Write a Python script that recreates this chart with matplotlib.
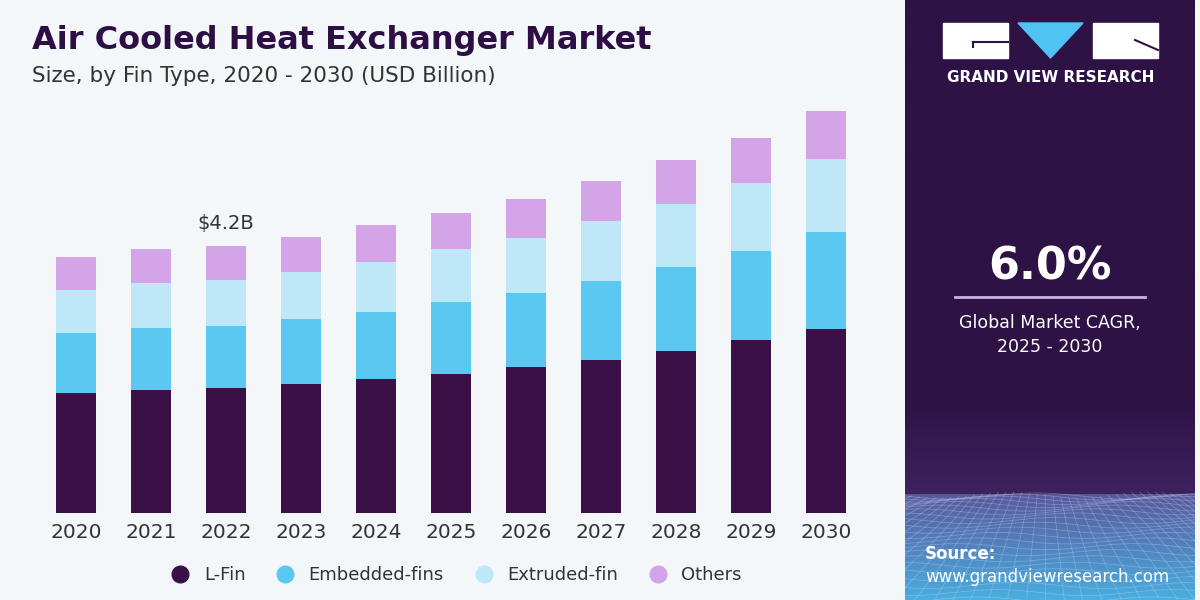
import numpy as np
import matplotlib.pyplot as plt
from matplotlib.lines import Line2D
from matplotlib.patches import Rectangle, Polygon

# data (USD Billion)
years = ["2020", "2021", "2022", "2023", "2024", "2025", "2026", "2027", "2028", "2029", "2030"]
l_fin = [1.89, 1.93, 1.96, 2.02, 2.10, 2.19, 2.29, 2.41, 2.55, 2.72, 2.89]
embedded_fins = [0.94, 0.98, 0.98, 1.03, 1.06, 1.12, 1.17, 1.24, 1.32, 1.40, 1.52]
extruded_fin = [0.68, 0.71, 0.72, 0.74, 0.79, 0.83, 0.86, 0.94, 0.99, 1.06, 1.15]
others = [0.51, 0.53, 0.54, 0.55, 0.57, 0.58, 0.61, 0.63, 0.68, 0.71, 0.75]
series_names = ["L-Fin", "Embedded-fins", "Extruded-fin", "Others"]
colors = ["#3A1046", "#5BC8F2", "#BEE8F8", "#D3A5E8"]
label_year = 2
label_text = r"\$4.2B"

BG = "#F3F7FA"
PANEL = "#2E1245"

fig = plt.figure(figsize=(12, 6), dpi=100, facecolor=BG)

# main bar chart
ax = fig.add_axes([38.5 / 1200, 87 / 600, 825 / 1200, 413.8 / 600])
ax.set_facecolor(BG)
x = np.arange(len(years))
bottom = np.zeros(len(years))
for vals, col in zip([l_fin, embedded_fins, extruded_fin, others], colors):
    ax.bar(x, vals, width=0.54, bottom=bottom, color=col, linewidth=0)
    bottom = bottom + np.array(vals)
ax.set_xlim(-0.5, len(years) - 0.5)
ax.set_ylim(0, 6.5)
ax.set_xticks(x)
ax.set_xticklabels(years, fontsize=14.5, color="#333333")
ax.tick_params(axis="x", length=0, pad=7)
ax.set_yticks([])
for s in ax.spines.values():
    s.set_visible(False)
ax.text(label_year, bottom[label_year] + 0.2, label_text, ha="center", va="bottom",
        fontsize=14, color="#333333")

# titles
fig.text(32 / 1200, 1 - 40 / 600, "Air Cooled Heat Exchanger Market", fontsize=23,
         fontweight="heavy", color="#2E0F45", va="center", ha="left")
fig.text(32 / 1200, 1 - 76 / 600, "Size, by Fin Type, 2020 - 2030 (USD Billion)", fontsize=15.5,
         color="#333333", va="center", ha="left")

# legend
handles = [Line2D([], [], marker="o", linestyle="", markersize=13, markerfacecolor=c,
                  markeredgewidth=0) for c in colors]
fig.legend(handles, series_names, loc="center", bbox_to_anchor=(452 / 1200, 1 - 575 / 600),
           ncol=4, frameon=False, fontsize=13, handletextpad=0.3, columnspacing=1.2,
           labelcolor="#333333")

# right side panel, drawn in pixel coordinates
pax = fig.add_axes([905 / 1200, 0, 290 / 1200, 1])
pax.set_xlim(0, 290)
pax.set_ylim(600, 0)
pax.axis("off")

# background: dark purple, a soft lift towards the horizon, then the blue "floor"
ys = np.linspace(0, 600, 601)
c_top = np.array([0x2E, 0x12, 0x45]) / 255
c_hor = np.array([0x3E, 0x22, 0x5E]) / 255
c_floor = np.array([0x5A, 0x58, 0x9C]) / 255
c_bot = np.array([0x4A, 0xAE, 0xE0]) / 255
grad = np.zeros((len(ys), 1, 3))
for i, yy in enumerate(ys):
    if yy < 400:
        c = c_top
    elif yy < 495:
        t = (yy - 400) / 95
        c = c_top * (1 - t) + c_hor * t
    else:
        t = (yy - 495) / 105
        c = c_floor * (1 - t) + c_bot * t
    grad[i, 0] = c
pax.imshow(grad, extent=[0, 290, 600, 0], aspect="auto", zorder=0)

# faint perspective mesh on the floor
vx, vy = 140, 420
for gx in np.linspace(-500, 800, 70):
    yy = np.linspace(495, 600, 25)
    xx = vx + (gx - vx) * (yy - vy) / (600 - vy)
    pax.plot(xx, yy + 3 * np.sin(xx / 22), color="#C8E2FA", lw=0.6, alpha=0.3, zorder=1)
for k in range(22):
    yy0 = 496 + 104 * (k / 21) ** 1.5
    xx = np.linspace(0, 290, 80)
    pax.plot(xx, yy0 + 3 * np.sin(xx / 28 + k * 0.7), color="#C8E2FA", lw=0.6, alpha=0.3,
             zorder=1)
pax.set_xlim(0, 290)
pax.set_ylim(600, 0)

# logo
pax.add_patch(Rectangle((38, 23), 65, 35, color="white", zorder=2))
pax.plot([68, 103], [42, 42], color=PANEL, lw=1.5, zorder=3)
pax.plot([68, 68], [42, 47], color=PANEL, lw=1.5, zorder=3)
pax.add_patch(Polygon([[113, 23], [178, 23], [145.5, 58]], color="#4FC3F3", zorder=2))
pax.add_patch(Rectangle((188, 23), 65, 35, color="white", zorder=2))
pax.plot([230, 253], [40, 50], color=PANEL, lw=1.5, zorder=3)
pax.text(145.5, 78, "GRAND VIEW RESEARCH", color="white", fontsize=11, fontweight="bold",
         ha="center", va="center", zorder=3)

# CAGR block
pax.text(145, 267, "6.0%", color="white", fontsize=32, fontweight="bold",
         ha="center", va="center", zorder=3)
pax.plot([50, 240], [297, 297], color="#C9B2E2", lw=2, zorder=3)
pax.text(145, 323, "Global Market CAGR,", color="white", fontsize=12.5,
         ha="center", va="center", zorder=3)
pax.text(145, 347, "2025 - 2030", color="white", fontsize=12.5,
         ha="center", va="center", zorder=3)

# source
pax.text(20, 554, "Source:", color="white", fontsize=12, fontweight="bold",
         ha="left", va="center", zorder=3)
pax.text(20, 577, "www.grandviewresearch.com", color="white", fontsize=12,
         ha="left", va="center", zorder=3)

fig.savefig("out.png", dpi=100, facecolor=BG)
